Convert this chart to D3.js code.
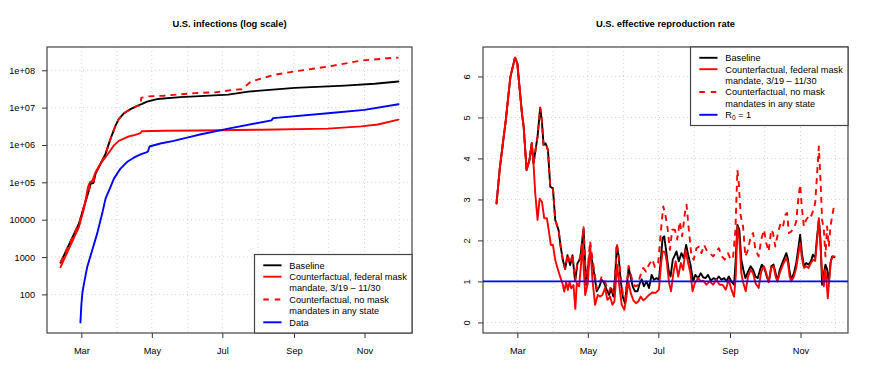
<!DOCTYPE html>
<html>
<head>
<meta charset="utf-8">
<script src="https://cdn.jsdelivr.net/npm/d3@7"></script>
<style>
body { margin: 0; background: #fff; }
svg text { font-family: "Liberation Sans", Arial, Helvetica, sans-serif; fill: #000; }
</style>
</head>
<body>
<svg id="chart" width="872" height="369"></svg>
<script>
// days are counted from March 1, 2020
const mar1 = new Date(2020, 2, 1);

const monthTicks = ["2020-03-01", "2020-05-01", "2020-07-01", "2020-09-01", "2020-11-01"];
const monthLabels = ["Mar", "May", "Jul", "Sep", "Nov"];
const gridMonths = ["2020-02-01", "2020-03-01", "2020-04-01", "2020-05-01", "2020-06-01", "2020-07-01",
    "2020-08-01", "2020-09-01", "2020-10-01", "2020-11-01", "2020-12-01"];

const infTicks = [1e2, 1e3, 1e4, 1e5, 1e6, 1e7, 1e8];
const infTickLabels = ["100", "1000", "10000", "1e+05", "1e+06", "1e+07", "1e+08"];
const rtTicks = [0, 1, 2, 3, 4, 5, 6];

// cumulative infections, [day, count]
const infBaseline = [[-18, 708], [-2, 7940], [2.3, 22400], [6.6, 61700], [8.1, 93300], [10.4, 96000],
    [12.4, 174000], [16.7, 316000], [21, 589000], [25.3, 1480000], [29.6, 3310000], [32.5, 5010000],
    [36.8, 7080000], [42.6, 9120000], [48.3, 11200000], [52.6, 12600000], [56.9, 14500000],
    [65.6, 17000000], [85.7, 19100000], [102.7, 20400000], [127.1, 22400000], [144.4, 26900000],
    [184.6, 33900000], [227.8, 38900000], [253.7, 43700000], [274.4, 50100000]];
const infFederal = [[-18, 537], [-2, 6460], [2.3, 20000], [5.8, 75900], [7.5, 102000], [9.5, 110000],
    [12.4, 191000], [16.1, 302000], [21, 479000], [25.3, 724000], [28.2, 977000], [32.5, 1290000],
    [36.8, 1480000], [41.1, 1700000], [45.4, 1820000], [51.2, 2090000], [52.3, 2340000],
    [71.3, 2400000], [102.7, 2450000], [155.9, 2570000], [213.4, 2750000], [242.2, 3160000],
    [256.5, 3550000], [274.4, 4790000]];
const infNoMask = [[-18, 708], [-2, 7940], [2.3, 22400], [6.6, 61700], [8.1, 93300], [10.4, 96000],
    [12.4, 174000], [16.7, 316000], [21, 589000], [25.3, 1480000], [29.6, 3310000], [32.5, 5010000],
    [36.8, 7080000], [42.6, 9120000], [48.3, 11000000], [51.3, 11500000], [51.8, 18200000],
    [56.9, 19950000], [71.3, 20900000], [98.4, 24500000], [115.6, 25700000], [131.4, 30000000],
    [138.6, 31000000], [143, 39800000], [146, 47900000], [150.1, 53700000], [167, 75900000],
    [184.6, 93300000], [213.4, 126000000], [242.2, 182000000], [268, 214000000], [274.4, 219000000]];
const infData = [[-0.8, 17.8], [0, 50], [0.9, 110], [2.9, 245], [5.2, 562], [9.5, 1550], [13.8, 4370],
    [18.1, 14800], [21, 37200], [25.3, 75900], [28.2, 126000], [33.9, 234000], [39.7, 355000],
    [45.4, 457000], [51.2, 562000], [56.9, 646000], [57.8, 692000], [59, 912000], [68.4, 1100000],
    [80, 1290000], [91.5, 1580000], [102.7, 1910000], [127.1, 2750000], [164.5, 4570000],
    [166, 5250000], [213.4, 7080000], [245, 8710000], [274.4, 12300000]];

// effective reproduction rate, [day, Rt]
const rtBaseline = [[-18, 2.90], [-15, 3.80], [-10, 4.93], [-6, 5.99], [-2, 6.46], [0, 6.32], [4, 5.10],
    [5.5, 4.77], [8, 3.72], [10.5, 3.96], [12.5, 4.37], [14, 3.88], [17.5, 4.53], [19.8, 5.24], [21.3, 4.89],
    [22.7, 4.33], [24.5, 4.37], [26.5, 4.20], [28.5, 3.31], [30.8, 3.27], [32.8, 2.50], [35.7, 2.25],
    [37.5, 1.85], [39.4, 1.52], [41.4, 1.30], [43.4, 1.64], [45.7, 1.40], [47.7, 1.64], [50, 1.00],
    [52, 1.44], [54.4, 1.55], [57.3, 2.28], [59.5, 0.92], [61, 1.30], [63, 1.73], [65, 1.45], [67, 1.10],
    [68.7, 0.76], [71, 0.88], [73, 1.04], [75, 0.97], [77.3, 0.80], [79.4, 0.67], [81.2, 0.82], [83.1, 0.63],
    [84.5, 1.02], [86, 1.85], [87.5, 1.65], [89.4, 1.04], [91.2, 0.63], [93.2, 0.46], [94.7, 0.88],
    [96.3, 1.33], [98, 1.12], [99.8, 0.88], [101.8, 0.76], [104, 0.76], [106, 0.96], [107.6, 1.05],
    [109.5, 0.88], [111.8, 1.00], [113.9, 0.84], [116.2, 1.16], [118.2, 1.04], [120.5, 1.08], [122.5, 1.04],
    [123.9, 1.45], [125.7, 2.06], [127.1, 2.10], [129, 1.70], [131, 1.25], [132.6, 1.12], [134.5, 1.53],
    [137.7, 1.73], [139.7, 1.49], [142, 1.69], [144, 1.57], [146.1, 1.89], [147.8, 1.65], [149.8, 1.41],
    [152.1, 1.00], [154, 1.16], [156.4, 1.08], [158.7, 1.20], [160.8, 1.10], [162.8, 1.08], [165, 1.16],
    [167.4, 1.02], [169.7, 1.08], [172.3, 1.04], [174.3, 1.12], [176.6, 1.04], [178.9, 1.08], [181, 1.00],
    [183, 1.12], [185.2, 1.00], [187.5, 0.92], [189, 1.55], [190.4, 2.38], [192.1, 2.26], [193.8, 1.53],
    [195.6, 1.28], [197.3, 1.08], [199.6, 1.24], [201.9, 1.37], [204, 1.28], [206, 1.12], [208, 1.08],
    [210, 1.28], [211.6, 1.41], [214, 1.30], [216.3, 1.08], [217.7, 1.00], [219.7, 1.37], [221.7, 1.41],
    [223.5, 1.20], [225, 1.00], [227, 1.28], [229.8, 1.49], [232.7, 1.69], [234.1, 1.55], [235.6, 1.24],
    [237, 1.04], [239.3, 1.20], [241.3, 1.45], [243.3, 1.85], [244.7, 2.14], [246.2, 1.69], [248, 1.37],
    [250, 1.45], [252, 1.41], [254, 1.49], [255.7, 1.65], [257.7, 1.57], [259.4, 2.10], [260.9, 2.50],
    [262.3, 2.02], [263.7, 0.92], [265.2, 1.20], [266.6, 1.41], [268, 1.30], [269.5, 0.96], [270.9, 1.45],
    [272.4, 1.61], [274.4, 1.59]];
const rtFederal = [[-18, 2.90], [-15, 3.80], [-10, 4.93], [-6, 5.99], [-2, 6.46], [0, 6.32], [4, 5.10],
    [5.5, 4.77], [8, 3.72], [10.5, 3.96], [12.5, 4.37], [14, 3.88], [15.5, 3.15], [17.5, 2.50], [19.3, 3.02],
    [21.3, 2.94], [23.3, 2.54], [25.6, 2.54], [27.6, 2.17], [29, 1.89], [30.8, 1.89], [32.8, 1.52],
    [34.8, 1.32], [37.1, 1.11], [39.1, 0.95], [40.6, 0.75], [42.3, 0.99], [43.7, 0.79], [45.2, 0.99],
    [46.6, 0.83], [48.6, 0.91], [50.2, 0.33], [51.5, 0.96], [53.5, 0.88], [56.4, 1.85], [58.7, 0.67],
    [61, 0.96], [63, 1.89], [65, 1.04], [67.3, 0.43], [69.6, 0.67], [71.6, 0.63], [73.6, 0.67], [75.9, 0.84],
    [77.9, 0.55], [80.2, 0.63], [82.3, 0.43], [84, 0.51], [86.3, 1.41], [88.3, 0.88], [90.3, 0.43],
    [92.6, 0.31], [94.3, 0.59], [96.1, 1.00], [98.1, 0.72], [100.4, 0.54], [102.7, 0.47], [104.7, 0.51],
    [106.7, 0.63], [109, 0.54], [111.3, 0.59], [113.9, 0.67], [116.8, 0.73], [119.6, 0.72], [122.5, 0.80],
    [124.3, 1.41], [125.7, 1.73], [127.7, 1.72], [129.2, 1.50], [131.3, 0.96], [133, 0.76], [135, 1.20],
    [137, 1.49], [139.2, 1.12], [141.5, 1.45], [143.5, 1.28], [145.5, 1.77], [147.8, 1.45], [149.8, 1.20],
    [151.6, 0.76], [153.6, 0.96], [156.4, 1.08], [158.8, 1.00], [160.8, 1.02], [163.6, 0.92], [166.5, 1.00],
    [169.3, 0.92], [172.2, 1.04], [175, 0.92], [177.5, 0.92], [180.3, 0.80], [183, 1.04], [185.2, 0.80],
    [187.5, 0.63], [189, 1.12], [190.4, 2.34], [192.1, 2.02], [193.8, 1.20], [195.5, 0.96], [197.6, 0.76],
    [199.6, 1.12], [201.9, 1.28], [204, 1.20], [206, 0.96], [208.8, 0.84], [211, 1.24], [213.4, 1.37],
    [215.4, 1.20], [217.4, 0.98], [219.7, 1.33], [221.7, 1.37], [223.5, 1.12], [225, 1.00], [227, 1.20],
    [229.8, 1.41], [232.7, 1.57], [234.1, 1.45], [235.6, 1.12], [237, 1.00], [239.3, 1.12], [241.3, 1.33],
    [243.3, 1.69], [244.7, 1.94], [246.2, 1.57], [248, 1.33], [250, 1.37], [252, 1.33], [254, 1.45],
    [255.7, 1.53], [257.7, 1.50], [259.4, 2.02], [260.9, 2.54], [262.3, 1.85], [263.7, 1.20], [265.2, 0.88],
    [266.3, 1.28], [267.2, 1.12], [268.6, 0.59], [270.1, 1.12], [271.5, 1.53], [273, 1.61], [274.4, 1.61]];
const rtNoMask = [[-18, 2.90], [-15, 3.80], [-10, 4.93], [-6, 5.99], [-2, 6.46], [0, 6.32], [4, 5.10],
    [5.5, 4.77], [8, 3.72], [10.5, 3.96], [12.5, 4.37], [14, 3.88], [17.5, 4.53], [19.8, 5.24], [21.3, 4.89],
    [22.7, 4.33], [24.5, 4.37], [26.5, 4.20], [28.5, 3.31], [30.8, 3.27], [32.8, 2.50], [35.7, 2.25],
    [37.5, 1.85], [39.4, 1.52], [41.4, 1.30], [43.4, 1.66], [45.7, 1.42], [47.7, 1.66], [50, 1.02],
    [52, 1.46], [54.4, 1.58], [57.3, 2.32], [59.5, 0.95], [61, 1.35], [63, 1.98], [65, 1.55], [67, 1.18],
    [68.7, 0.82], [71, 0.95], [73, 1.12], [75, 1.05], [77.3, 0.88], [79.4, 0.75], [81.2, 0.90], [83.1, 0.72],
    [84.5, 1.10], [86, 1.93], [87.5, 1.72], [89.4, 1.12], [91.2, 0.72], [93.2, 0.55], [94.7, 0.95],
    [96.3, 1.38], [98, 1.20], [99.8, 0.98], [101.8, 0.88], [104, 0.90], [106, 1.10], [107.6, 1.25],
    [109, 1.33], [111.3, 1.24], [113.9, 1.41], [116.8, 1.54], [119, 1.35], [121.9, 1.45], [124.3, 2.26],
    [126.3, 2.83], [128.3, 2.59], [130, 2.30], [132, 1.77], [134, 2.26], [136.3, 2.26], [138.3, 2.02],
    [140.6, 2.46], [142.6, 2.10], [145, 2.67], [146.4, 2.87], [148.4, 2.26], [150.7, 1.61], [152.6, 1.53],
    [155, 1.81], [157.3, 1.85], [159.3, 1.69], [161.6, 1.89], [163.6, 1.77], [166.5, 1.69], [169.4, 1.61],
    [171.4, 1.69], [174.3, 1.81], [177, 1.61], [179.4, 1.53], [182.3, 1.69], [184.6, 1.53], [186.6, 1.57],
    [188.7, 2.26], [190.4, 3.72], [191.6, 3.40], [193.3, 2.59], [195.3, 2.34], [197.3, 1.61], [199.6, 1.77],
    [201.9, 2.10], [204, 2.18], [206, 1.77], [208.8, 1.61], [211, 2.02], [213.4, 2.26], [215.4, 1.94],
    [217.4, 1.73], [219.7, 2.26], [221.2, 2.18], [223.2, 1.85], [225.5, 2.18], [227.8, 2.42], [229.8, 2.34],
    [232, 2.63], [233.4, 2.67], [235, 2.18], [237, 2.22], [239.3, 2.30], [241.3, 2.46], [243.3, 3.07],
    [244.7, 3.36], [246.1, 2.83], [247.9, 2.34], [249.9, 2.50], [252, 2.59], [253.7, 2.55], [255.7, 2.71],
    [257.7, 2.91], [259.4, 3.64], [260.9, 4.29], [262.3, 3.48], [263.7, 2.50], [265.2, 2.26], [266.6, 1.61],
    [268, 2.34], [269.5, 1.85], [270.9, 2.34], [272.4, 2.59], [273.8, 2.81], [274.4, 2.79]];
const rtThreshold = 1;

const svg = d3.select("#chart");
const boxTop = 47, boxBottom = 333;
const fontSize = 9.2;

function toDate(d) { return new Date(mar1.getTime() + d * 864e5); }
// R style axis range: data extent stretched by 4% on each side
function pad(ext) {
    const p = (ext[1] - ext[0]) * 0.04;
    return [ext[0] - p, ext[1] + p];
}

const dayExt = d3.extent(infBaseline.concat(infData, rtBaseline), d => d[0]);

function drawPanel(x0, x1, y, yTicks, yLabels, rotated, title, clipId) {
    const x = d3.scaleTime().domain(pad(dayExt).map(toDate)).range([x0, x1]);
    const g = svg.append("g");

    g.append("clipPath").attr("id", clipId)
        .append("rect")
        .attr("x", x0).attr("y", boxTop)
        .attr("width", x1 - x0).attr("height", boxBottom - boxTop);

    const grid = g.append("g")
        .attr("stroke", "#d3d3d3")
        .attr("stroke-width", 1)
        .attr("stroke-dasharray", "1,3");
    grid.selectAll(".v")
        .data(gridMonths.map(s => new Date(s + "T00:00")).filter(d => x(d) > x0 + 1 && x(d) < x1 - 1))
        .enter().append("line")
        .attr("x1", d => x(d)).attr("x2", d => x(d))
        .attr("y1", boxTop).attr("y2", boxBottom);
    grid.selectAll(".h")
        .data(yTicks)
        .enter().append("line")
        .attr("x1", x0).attr("x2", x1)
        .attr("y1", d => y(d)).attr("y2", d => y(d));

    const xAxis = g.append("g")
        .attr("transform", "translate(0," + boxBottom + ")")
        .call(d3.axisBottom(x)
            .tickValues(monthTicks.map(s => new Date(s + "T00:00")))
            .tickFormat((d, i) => monthLabels[i])
            .tickSize(5)
            .tickPadding(9));
    xAxis.select(".domain").remove();

    const yAxis = g.append("g")
        .attr("transform", "translate(" + x0 + ",0)")
        .call(d3.axisLeft(y)
            .tickValues(yTicks)
            .tickFormat((d, i) => yLabels[i])
            .tickSize(5)
            .tickPadding(7));
    yAxis.select(".domain").remove();
    if (rotated) {
        yAxis.selectAll("text")
            .attr("x", null).attr("dy", null)
            .attr("text-anchor", "middle")
            .attr("transform", "translate(-13.5,0) rotate(-90)");
    }

    g.selectAll(".tick line").attr("stroke", "#333");
    g.selectAll(".tick text")
        .style("font-family", '"Liberation Sans", Arial, sans-serif')
        .style("font-size", fontSize + "px")
        .attr("fill", "#000");

    g.append("rect")
        .attr("x", x0).attr("y", boxTop)
        .attr("width", x1 - x0).attr("height", boxBottom - boxTop)
        .attr("fill", "none")
        .attr("stroke", "#444")
        .attr("stroke-width", 1.2);

    g.append("text")
        .attr("x", (x0 + x1) / 2)
        .attr("y", 27)
        .attr("text-anchor", "middle")
        .style("font-size", "9.4px")
        .style("font-weight", "bold")
        .text(title);

    return { g: g, x: x };
}

function drawSeries(panel, y, data, color, dashed, clipId) {
    const line = d3.line()
        .x(d => panel.x(toDate(d[0])))
        .y(d => y(d[1]));
    panel.g.append("path")
        .datum(data)
        .attr("clip-path", "url(#" + clipId + ")")
        .attr("fill", "none")
        .attr("stroke", color)
        .attr("stroke-width", 1.9)
        .attr("stroke-linejoin", "round")
        .attr("stroke-linecap", dashed ? "butt" : "round")
        .attr("stroke-dasharray", dashed ? "6,5" : null)
        .attr("d", line);
}

function drawLegend(right, top, entries) {
    const w = 157.5, h = 78.5, step = 11.4;
    const left = right - w;
    const lg = svg.append("g");
    lg.append("rect")
        .attr("x", left).attr("y", top)
        .attr("width", w).attr("height", h)
        .attr("fill", "#fff")
        .attr("stroke", "#444")
        .attr("stroke-width", 1.2);
    let row = 0;
    entries.forEach(e => {
        const cy = top + 10.8 + row * step;
        lg.append("line")
            .attr("x1", left + 8.8).attr("x2", left + 27)
            .attr("y1", cy).attr("y2", cy)
            .attr("stroke", e.color)
            .attr("stroke-width", 1.9)
            .attr("stroke-dasharray", e.dashed ? "5.5,6" : null);
        e.lines.forEach((t, i) => {
            const txt = lg.append("text")
                .attr("x", left + 34.8)
                .attr("y", cy + i * step + 3.3)
                .style("font-size", fontSize + "px");
            if (t === "R0") {
                txt.append("tspan").text("R");
                txt.append("tspan").attr("dy", 2.2).style("font-size", "6.6px").text("0");
                txt.append("tspan").attr("dy", -2.2).text(" = 1");
            } else {
                txt.text(t);
            }
        });
        row += e.lines.length;
    });
}

// left panel: infections on a log scale
const infAll = infBaseline.concat(infFederal, infNoMask, infData).map(d => Math.log10(d[1]));
const yInf = d3.scaleLog()
    .domain(pad(d3.extent(infAll)).map(v => Math.pow(10, v)))
    .range([boxBottom, boxTop]);
const left = drawPanel(47, 412, yInf, infTicks, infTickLabels, false, "U.S. infections (log scale)", "clipL");
drawSeries(left, yInf, infBaseline, "#000", false, "clipL");
drawSeries(left, yInf, infFederal, "#ff0000", false, "clipL");
drawSeries(left, yInf, infNoMask, "#ff0000", true, "clipL");
drawSeries(left, yInf, infData, "#0000ff", false, "clipL");

// right panel: effective reproduction rate
const rtMax = d3.max(rtBaseline.concat(rtFederal, rtNoMask), d => d[1]);
const yRt = d3.scaleLinear()
    .domain(pad([0, rtMax]))
    .range([boxBottom, boxTop]);
const right = drawPanel(483, 848, yRt, rtTicks, rtTicks.map(String), true, "U.S. effective reproduction rate", "clipR");
drawSeries(right, yRt, rtBaseline, "#000", false, "clipR");
drawSeries(right, yRt, rtFederal, "#ff0000", false, "clipR");
drawSeries(right, yRt, rtNoMask, "#ff0000", true, "clipR");
right.g.append("line")
    .attr("x1", 483).attr("x2", 848)
    .attr("y1", yRt(rtThreshold)).attr("y2", yRt(rtThreshold))
    .attr("stroke", "#0000ff")
    .attr("stroke-width", 1.9);

const legendCommon = [
    { lines: ["Baseline"], color: "#000" },
    { lines: ["Counterfactual, federal mask", "mandate, 3/19 \u2013 11/30"], color: "#ff0000" },
    { lines: ["Counterfactual, no mask", "mandates in any state"], color: "#ff0000", dashed: true }
];
drawLegend(412, boxBottom - 78.5, legendCommon.concat([{ lines: ["Data"], color: "#0000ff" }]));
drawLegend(848, boxTop, legendCommon.concat([{ lines: ["R0"], color: "#0000ff" }]));
</script>
</body>
</html>
